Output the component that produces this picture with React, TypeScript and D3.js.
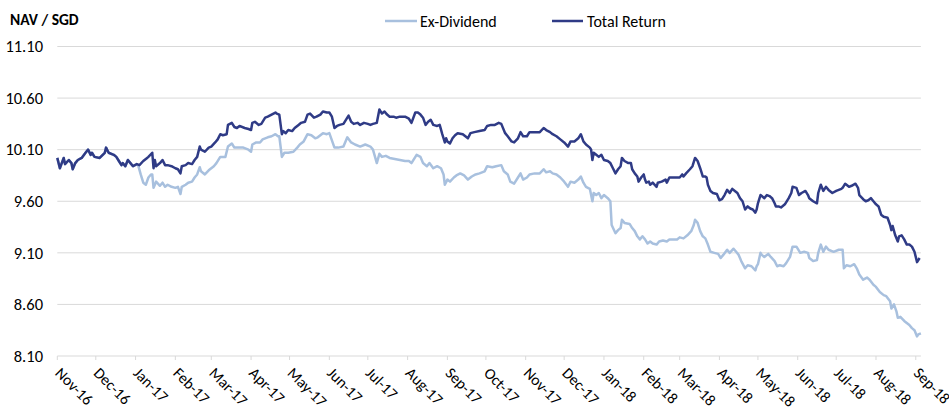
import React from "react";
import * as d3 from "d3";

// Day offsets from 1 Nov 2016, NAV in SGD
const START_DATE = "2016-11-01";

const totalReturn: [number, number][] = [
  [0,10.02],[2,9.92],[5,10.02],[6,9.96],[9,10.00],[11,9.97],[12,9.91],[14,9.97],[16,10.00],[19,10.02],[22,10.07],[24,10.10],[26,10.05],[27,10.07],[29,10.03],[33,10.02],[37,10.07],[38,10.12],[40,10.07],[44,10.05],[46,10.03],[48,9.99],[50,9.95],[51,9.97],[53,9.94],[55,10.00],[57,9.97],[59,9.94],[62,9.96],[64,9.95],[67,9.99],[70,10.02],[71,10.03],[74,10.07],[75,9.92],[76,10.00],[77,9.94],[80,9.97],[82,10.00],[84,9.95],[86,9.95],[89,9.94],[92,9.92],[94,9.91],[96,9.87],[97,9.94],[100,9.95],[102,9.97],[105,9.96],[107,10.00],[109,10.03],[111,10.13],[112,10.10],[115,10.08],[118,10.12],[120,10.13],[123,10.17],[125,10.20],[127,10.25],[129,10.24],[132,10.25],[133,10.34],[136,10.36],[138,10.32],[140,10.31],[142,10.33],[146,10.31],[149,10.30],[151,10.29],[152,10.36],[154,10.37],[157,10.34],[159,10.35],[162,10.41],[164,10.42],[167,10.44],[170,10.46],[171,10.45],[173,10.44],[175,10.25],[176,10.28],[178,10.26],[180,10.29],[183,10.28],[185,10.31],[188,10.34],[190,10.36],[193,10.37],[195,10.44],[197,10.45],[200,10.41],[202,10.42],[205,10.44],[207,10.47],[210,10.46],[212,10.46],[214,10.42],[216,10.31],[218,10.33],[220,10.34],[223,10.35],[226,10.41],[227,10.43],[229,10.37],[231,10.35],[234,10.36],[236,10.34],[239,10.36],[242,10.35],[244,10.34],[246,10.35],[249,10.36],[251,10.49],[253,10.45],[255,10.47],[257,10.44],[259,10.42],[262,10.42],[264,10.41],[267,10.42],[271,10.42],[274,10.40],[276,10.36],[279,10.46],[281,10.46],[283,10.44],[285,10.41],[287,10.34],[289,10.37],[291,10.39],[293,10.34],[296,10.33],[298,10.34],[300,10.25],[302,10.17],[303,10.21],[304,10.18],[306,10.16],[308,10.21],[310,10.24],[312,10.26],[316,10.25],[318,10.23],[320,10.21],[322,10.26],[325,10.27],[329,10.28],[333,10.29],[335,10.33],[338,10.34],[341,10.34],[344,10.36],[346,10.35],[349,10.26],[351,10.23],[354,10.18],[356,10.17],[359,10.21],[361,10.27],[363,10.23],[366,10.23],[368,10.27],[372,10.27],[376,10.27],[379,10.31],[381,10.29],[384,10.27],[386,10.25],[389,10.23],[392,10.20],[395,10.17],[398,10.13],[400,10.18],[403,10.18],[406,10.21],[408,10.25],[410,10.18],[412,10.15],[415,10.12],[416,10.10],[417,10.00],[418,10.07],[420,10.05],[422,10.03],[424,10.05],[426,10.00],[429,9.99],[431,9.97],[433,9.92],[435,9.87],[437,9.91],[439,9.94],[440,10.02],[442,9.99],[445,9.97],[447,9.97],[448,9.91],[450,9.87],[452,9.84],[453,9.79],[455,9.83],[457,9.86],[458,9.81],[459,9.78],[461,9.79],[462,9.76],[464,9.78],[467,9.74],[468,9.78],[471,9.79],[474,9.81],[475,9.78],[477,9.83],[480,9.83],[483,9.83],[485,9.83],[487,9.86],[488,9.84],[490,9.87],[493,9.91],[495,9.94],[497,10.02],[499,9.99],[501,9.92],[503,9.84],[505,9.84],[506,9.83],[507,9.76],[509,9.70],[511,9.68],[514,9.67],[516,9.61],[518,9.62],[520,9.66],[522,9.71],[524,9.68],[526,9.72],[528,9.70],[530,9.68],[532,9.63],[534,9.60],[536,9.52],[538,9.55],[540,9.53],[542,9.52],[544,9.49],[545,9.52],[546,9.58],[548,9.66],[549,9.65],[551,9.63],[553,9.66],[555,9.65],[557,9.63],[559,9.58],[560,9.55],[562,9.55],[564,9.54],[567,9.57],[570,9.63],[572,9.68],[573,9.74],[576,9.73],[578,9.66],[580,9.68],[583,9.70],[585,9.66],[586,9.63],[589,9.60],[592,9.58],[593,9.68],[595,9.76],[597,9.70],[599,9.74],[601,9.71],[604,9.68],[607,9.70],[611,9.72],[612,9.73],[614,9.77],[617,9.74],[619,9.75],[622,9.77],[624,9.73],[625,9.66],[628,9.62],[630,9.60],[632,9.61],[634,9.63],[636,9.60],[638,9.57],[640,9.55],[642,9.47],[644,9.45],[647,9.44],[649,9.37],[650,9.32],[651,9.36],[653,9.27],[655,9.21],[656,9.26],[658,9.27],[660,9.23],[662,9.18],[664,9.18],[666,9.16],[668,9.11],[670,9.01],[671,9.03],[672,9.05]
];

const exDividend: [number, number][] = [
  [0,10.02],[2,9.92],[5,10.02],[6,9.96],[9,10.00],[11,9.97],[12,9.91],[14,9.97],[16,10.00],[19,10.02],[22,10.07],[24,10.10],[26,10.05],[27,10.07],[29,10.03],[33,10.02],[37,10.07],[38,10.12],[40,10.07],[44,10.05],[46,10.03],[48,9.99],[50,9.95],[51,9.97],[53,9.94],[55,10.00],[57,9.97],[59,9.94],[62,9.96],
  [63,9.95],[65,9.86],[67,9.78],[69,9.76],[71,9.83],[73,9.86],[74,9.86],[75,9.73],[77,9.79],[80,9.75],[82,9.78],[84,9.74],[86,9.76],[89,9.74],[92,9.73],[94,9.74],[96,9.67],[97,9.74],[100,9.76],[102,9.78],[105,9.79],[107,9.83],[109,9.86],[111,9.93],[112,9.89],[115,9.86],[118,9.90],[122,9.94],[124,9.97],[127,10.03],[131,10.03],[133,10.13],[136,10.16],[138,10.12],[141,10.12],[145,10.12],[149,10.10],[151,10.08],[152,10.15],[155,10.17],[158,10.17],[160,10.20],[164,10.22],[167,10.23],[170,10.25],[172,10.23],[173,10.23],[175,10.03],[177,10.07],[180,10.07],[184,10.08],[187,10.12],[189,10.15],[192,10.18],[195,10.25],[198,10.24],[201,10.21],[203,10.22],[207,10.26],[210,10.25],[212,10.26],[216,10.12],[219,10.12],[223,10.13],[226,10.22],[229,10.17],[232,10.15],[236,10.13],[240,10.15],[244,10.13],[246,10.10],[249,9.97],[251,10.06],[253,10.03],[256,10.04],[259,10.02],[263,10.01],[267,10.00],[271,9.99],[274,9.99],[276,9.97],[280,10.05],[283,10.03],[285,9.97],[288,9.94],[290,9.97],[293,9.92],[296,9.94],[299,9.92],[301,9.86],[302,9.76],[304,9.81],[306,9.79],[309,9.83],[311,9.85],[314,9.87],[317,9.85],[320,9.81],[323,9.84],[326,9.86],[329,9.87],[333,9.89],[335,9.94],[339,9.93],[342,9.94],[346,9.95],[348,9.89],[351,9.86],[353,9.79],[356,9.77],[359,9.83],[361,9.87],[363,9.81],[366,9.83],[368,9.86],[372,9.87],[376,9.87],[379,9.91],[381,9.88],[384,9.89],[386,9.87],[389,9.86],[392,9.83],[395,9.79],[398,9.74],[400,9.79],[403,9.78],[406,9.81],[408,9.84],[410,9.78],[412,9.74],[415,9.72],[417,9.60],[418,9.68],[420,9.66],[422,9.68],[424,9.63],[426,9.66],[429,9.63],[431,9.60],[432,9.37],[435,9.29],[437,9.32],[439,9.34],[440,9.42],[442,9.39],[446,9.38],[448,9.34],[450,9.31],[452,9.26],[454,9.23],[456,9.26],[458,9.23],[460,9.19],[462,9.21],[464,9.19],[467,9.18],[469,9.21],[472,9.22],[475,9.21],[477,9.23],[480,9.23],[483,9.23],[485,9.25],[488,9.24],[491,9.27],[494,9.31],[496,9.37],[497,9.42],[499,9.39],[501,9.31],[503,9.26],[505,9.24],[507,9.18],[509,9.11],[512,9.10],[515,9.09],[517,9.05],[519,9.08],[522,9.13],[524,9.10],[527,9.14],[529,9.11],[531,9.08],[533,9.02],[536,8.95],[538,8.98],[541,8.97],[544,8.93],[545,8.97],[546,8.99],[548,9.10],[549,9.08],[551,9.06],[554,9.09],[556,9.06],[559,9.02],[561,8.97],[563,8.98],[566,8.97],[568,9.00],[571,9.06],[573,9.16],[576,9.16],[579,9.10],[582,9.11],[585,9.10],[586,9.05],[589,9.02],[592,9.03],[593,9.10],[595,9.18],[597,9.11],[599,9.16],[601,9.13],[605,9.11],[609,9.13],[612,9.13],[613,8.95],[615,8.98],[618,8.97],[621,8.99],[623,8.95],[625,8.89],[628,8.84],[631,8.86],[633,8.84],[636,8.79],[638,8.77],[641,8.72],[644,8.69],[646,8.68],[649,8.63],[650,8.56],[652,8.60],[654,8.53],[655,8.47],[657,8.48],[660,8.44],[662,8.42],[664,8.40],[666,8.37],[668,8.35],[670,8.29],[671,8.31],[673,8.32]
];

const yTicks = [8.1, 8.6, 9.1, 9.6, 10.1, 10.6, 11.1];
const seriesNames = ["Ex-Dividend", "Total Return"];
const AXIS_END_DAY = 673;
const TITLE = "NAV / SGD";

const COLORS = { ed: "#A8C0DE", tr: "#2F3B86" };
const FONT = "Carlito, Calibri, Lato, sans-serif";

export default function App() {
  const W = 949, H = 412;
  const start = d3.timeParse("%Y-%m-%d")(START_DATE)!;
  const end = d3.timeDay.offset(start, AXIS_END_DAY);
  const x = d3.scaleTime().domain([start, end]).range([57.3, 920.9]);
  const y = d3.scaleLinear().domain([8.1, 11.1]).range([356, 46.5]);

  const toPts = (arr: [number, number][]) =>
    arr.map(([d, v]) => ({ date: d3.timeDay.offset(start, d), v }));
  const line = d3
    .line<{ date: Date; v: number }>()
    .x((p) => x(p.date))
    .y((p) => y(p.v));

  const months = d3.timeMonth.range(start, d3.timeDay.offset(end, 1));
  const fmt = d3.timeFormat("%b-%y");

  return (
    <svg width={W} height={H} style={{ display: "block", position: "absolute", left: 0, top: 0 }}>
      <style>{"body{margin:0}"}</style>
      <rect width={W} height={H} fill="#fff" />
      <text x={10} y={25} fontFamily={FONT} fontWeight="bold" fontSize={15.5} fill="#000">
        {TITLE}
      </text>
      {yTicks.map((t) => (
        <g key={t}>
          <line x1={57.3} x2={920.9} y1={y(t)} y2={y(t)} stroke="#D9D9D9" strokeWidth={1} />
          <text x={43} y={y(t)} dy="0.35em" textAnchor="end" fontFamily={FONT} fontSize={16.5} fill="#000">
            {d3.format(".2f")(t)}
          </text>
        </g>
      ))}
      {months.map((m) => (
        <g key={+m}>
          <line x1={x(m)} x2={x(m)} y1={y(8.1)} y2={y(8.1) + 4} stroke="#D9D9D9" />
          <text
            transform={`translate(${x(m) - 3},${y(8.1) + 18}) rotate(45)`}
            fontFamily={FONT}
            fontSize={15.6}
            fill="#000"
          >
            {fmt(m)}
          </text>
        </g>
      ))}
      <path d={line(toPts(exDividend)) || ""} fill="none" stroke={COLORS.ed} strokeWidth={2.5} strokeLinejoin="round" />
      <path d={line(toPts(totalReturn)) || ""} fill="none" stroke={COLORS.tr} strokeWidth={2.5} strokeLinejoin="round" />
      <g>
        <line x1={385} x2={417} y1={21} y2={21} stroke={COLORS.ed} strokeWidth={2.5} />
        <text x={420} y={21} dy="0.35em" fontFamily={FONT} fontSize={16} fill="#000">{seriesNames[0]}</text>
        <line x1={552} x2={583} y1={21} y2={21} stroke={COLORS.tr} strokeWidth={2.5} />
        <text x={587} y={21} dy="0.35em" fontFamily={FONT} fontSize={16} fill="#000">{seriesNames[1]}</text>
      </g>
    </svg>
  );
}
